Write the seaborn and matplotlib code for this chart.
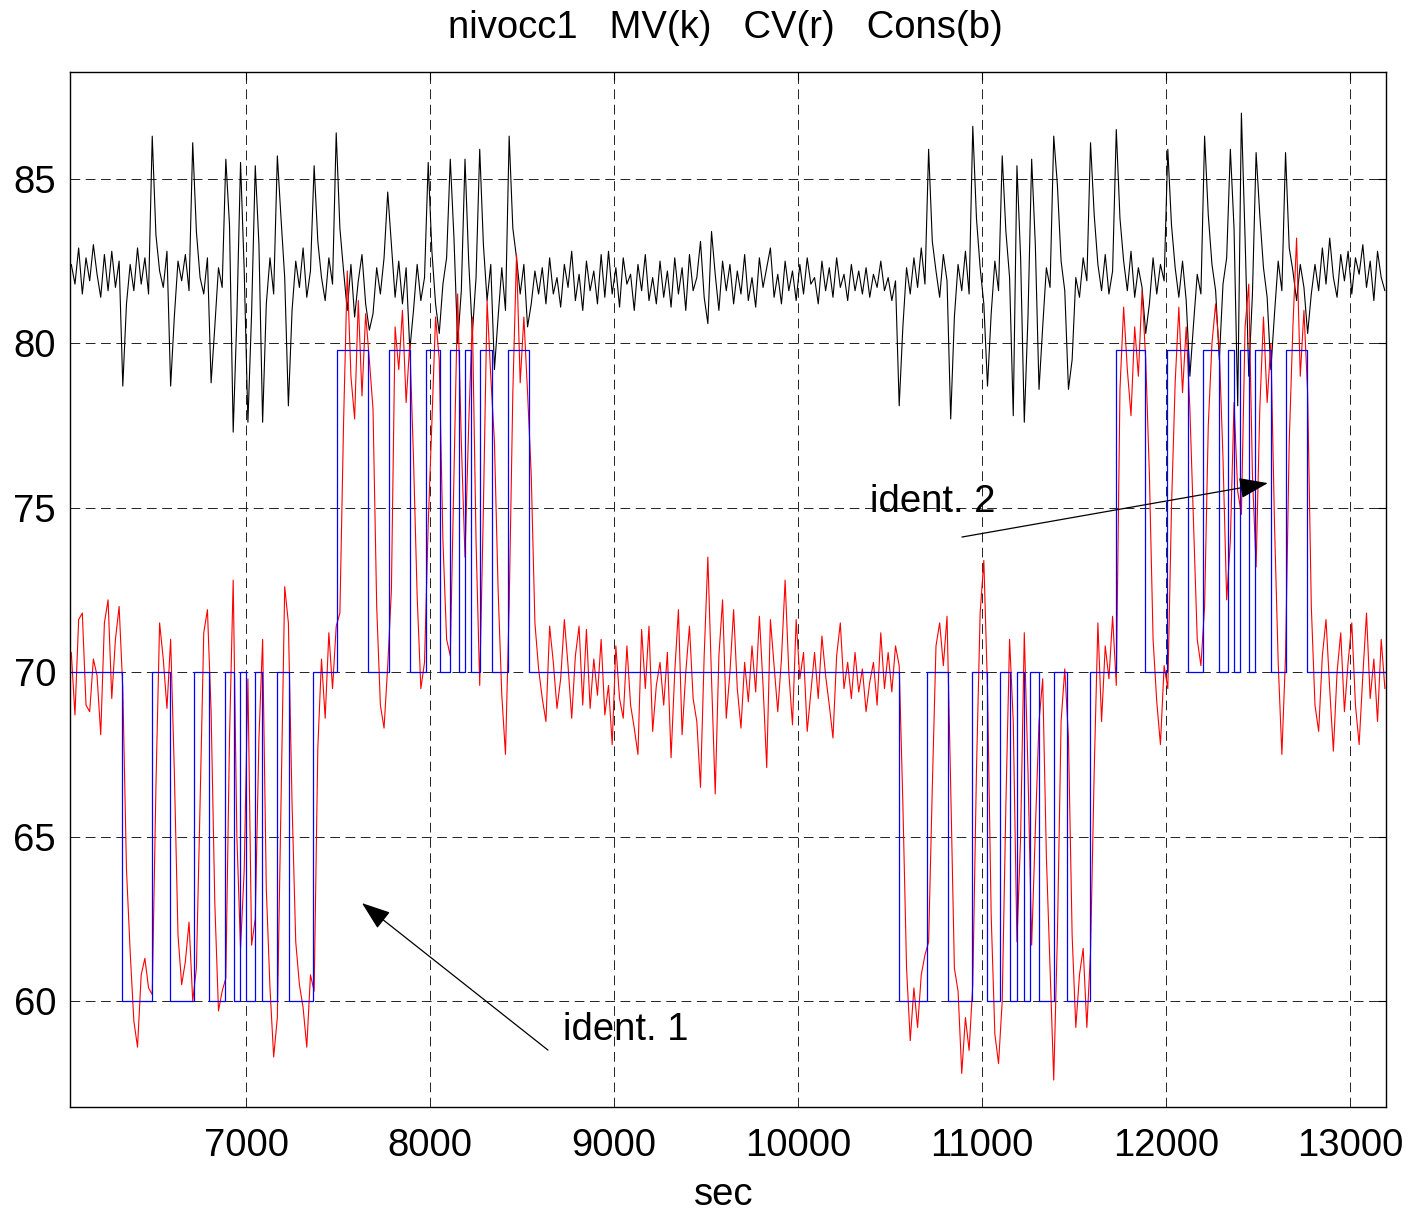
import numpy as np
import pandas as pd
import matplotlib
matplotlib.use("Agg")
import matplotlib.pyplot as plt
import seaborn as sns

# ---------------- data (sampled every 20 s, segments with their start time) ----------------
STEP = 20

# MV (black)
mv_seg1_start = 6050
mv_seg1 = [82.4, 81.8, 82.9, 81.5, 82.6, 81.9, 83.0, 82.1, 81.4, 82.7,
           81.6, 82.8, 81.7, 82.5, 78.7, 81.2, 82.4, 81.6, 82.9, 81.8,
           82.6, 81.5, 86.3, 83.3, 82.2, 81.7, 82.8, 78.7, 80.8, 82.5,
           81.9, 82.7, 81.6, 86.1, 83.4, 82.0, 81.5, 82.6, 78.8, 80.5,
           82.3, 81.7, 85.6, 83.6, 77.3, 80.8, 85.5, 82.2, 77.6, 80.9,
           85.4, 83.0, 77.6, 81.2, 82.6, 81.5, 85.7, 83.8, 82.0, 78.1,
           81.0, 82.5, 81.7, 82.9, 81.4, 82.2, 85.4, 83.1, 82.0, 81.3,
           82.6, 81.8, 86.4]
mv_seg2_start = 7510
mv_seg2 = [83.5, 82.2, 81.0, 82.4, 80.8, 81.9, 82.7, 81.2, 80.4, 80.9,
           82.3, 81.5, 82.6, 84.6, 83.0, 81.4, 82.5, 81.2, 82.3, 79.8,
           81.0, 82.4, 81.3, 82.0, 85.5, 82.8, 81.2, 80.3, 81.8, 82.6,
           85.6, 83.2, 80.0, 81.6, 85.6, 82.5, 80.3, 82.0, 85.9, 83.0,
           81.3, 82.4, 79.2, 80.8, 82.3, 81.0, 86.3, 83.5, 82.6, 81.5,
           82.4, 80.5, 81.2, 82.2, 81.5]
mv_seg3_start = 8610
mv_seg3 = [82.3, 81.2, 82.6, 81.5, 82.0, 81.1, 82.4, 81.7, 82.8, 81.3,
           82.1, 81.0, 82.5, 81.6, 82.2, 81.2, 82.7, 81.4, 82.8, 81.5,
           82.3, 81.1, 82.6, 81.8, 82.1, 81.0, 82.4, 81.6, 82.7, 81.3,
           82.0, 81.2, 82.5, 81.4, 82.2, 81.1, 82.6, 81.5, 82.3, 81.0,
           82.7, 81.6, 82.0, 83.1, 81.4, 80.6, 83.4, 82.1, 81.0, 82.5,
           81.6, 82.4, 81.2, 82.2, 81.5, 82.7, 81.3, 82.0, 81.1, 82.6,
           81.7, 82.3, 82.9, 81.4, 82.1, 81.2, 82.5, 81.6, 82.2, 81.3,
           82.4, 81.5, 82.6, 81.8, 82.0, 81.2, 82.5, 81.6, 82.3, 81.4,
           82.6, 81.7, 82.1, 81.3, 82.4, 81.6, 82.2, 81.5, 82.3, 81.4,
           82.1, 81.7, 82.5, 81.6, 82.0, 81.3, 81.9, 78.1]
mv_seg4_start = 10570
mv_seg4 = [80.5, 82.3, 81.5, 82.6, 81.7, 82.9, 81.8, 85.9, 83.1, 82.2,
           81.4, 82.7, 81.9, 77.7, 80.8, 82.4, 81.6, 82.8, 81.5, 86.6,
           83.8, 82.3, 81.2, 78.7, 80.9, 82.5, 81.6, 85.7, 83.4, 82.0,
           77.8, 85.4, 82.6, 77.6, 80.8, 85.6, 83.0, 78.6, 80.5, 82.3,
           81.7, 86.3, 84.8, 82.5, 81.6, 78.6, 79.5, 82.0, 81.4, 82.6,
           81.9, 86.1, 83.9, 82.4, 81.6, 82.7, 81.5, 82.2, 86.5]
mv_seg5_start = 11750
mv_seg5 = [83.8, 82.5, 81.6, 82.8, 81.4, 82.3, 81.7, 80.3, 81.2, 82.6,
           81.5, 82.4, 81.9, 85.9, 83.6, 82.3, 81.4, 82.5, 81.3, 79.0,
           80.6, 82.1, 81.5, 86.3, 83.9, 82.4, 81.6, 79.5, 81.8, 82.6,
           85.9, 83.5, 78.1, 87.0, 83.2, 79.0, 81.5, 85.8, 83.9, 82.3,
           81.4, 79.2, 80.9, 82.5, 81.6, 85.8, 82.9, 82.2, 81.3, 82.4,
           81.7, 80.3, 81.5]
mv_seg6_start = 12810
mv_seg6 = [82.4, 81.6, 82.9, 81.8, 83.2, 82.0, 81.4, 82.7, 81.9, 82.8,
           81.5, 82.6, 82.1, 83.0, 81.7, 82.5, 81.3, 82.8, 82.0, 81.6]

# CV (red)
cv_seg1_start = 6050
cv_seg1 = [70.6, 68.7, 71.6, 71.8, 69.0, 68.8, 70.4, 69.9, 68.1, 71.5,
           72.2, 69.2, 71.0, 72.0, 69.5, 64.0, 61.5, 59.4, 58.6, 60.8,
           61.3, 60.4, 60.2, 66.5, 71.5, 70.4, 68.9, 71.0, 67.0, 62.0,
           60.5, 61.2, 62.4, 60.0, 61.0, 66.0, 71.2, 71.9, 68.8, 63.0,
           59.7, 60.3, 60.7, 68.0, 72.8, 65.0, 61.6, 64.0, 69.8, 61.7,
           62.5, 68.0, 71.0, 63.4, 60.4, 58.3, 59.5, 66.0, 72.6, 71.5,
           66.0, 61.8, 60.5, 59.8, 58.6, 60.8, 60.3, 67.7, 70.4, 68.6,
           71.2, 69.5, 71.4]
cv_seg2_start = 7510
cv_seg2 = [71.8, 77.6, 82.2, 79.0, 77.7, 81.3, 78.4, 80.9, 79.5, 78.0,
           72.0, 69.0, 68.3, 70.2, 72.5, 80.5, 79.2, 81.0, 78.2, 80.0,
           76.5, 72.3, 69.5, 70.3, 74.5, 77.6, 80.8, 79.5, 74.0, 71.0,
           70.5, 76.0, 81.5, 77.0, 73.5, 77.5, 80.8, 74.0, 69.6, 75.0,
           81.3, 79.0, 77.0, 72.5, 69.3, 67.5, 72.0, 78.5, 82.7, 78.8,
           80.8, 78.5, 76.0, 71.5, 70.1]
cv_seg3_start = 8610
cv_seg3 = [69.2, 68.5, 71.4, 70.3, 68.9, 69.8, 71.6, 70.2, 68.6, 70.5,
           71.4, 69.0, 71.3, 68.9, 70.4, 69.3, 71.0, 68.7, 69.6, 67.8,
           70.8, 69.2, 68.6, 70.8, 69.0, 68.3, 67.5, 71.3, 69.5, 71.4,
           68.2, 69.6, 70.3, 69.0, 70.6, 67.4, 70.0, 71.9, 68.1, 70.0,
           71.4, 69.2, 68.5, 66.5, 70.5, 73.5, 69.8, 66.3, 70.5, 72.2,
           68.6, 70.0, 71.9, 69.5, 68.3, 70.3, 69.1, 70.8, 69.4, 71.7,
           69.6, 67.1, 71.6, 70.2, 68.8, 70.4, 72.8, 70.0, 68.4, 71.6,
           69.8, 70.6, 68.2, 69.4, 70.6, 69.2, 71.1, 69.9, 69.0, 68.0,
           70.5, 71.5, 69.5, 70.3, 69.2, 70.6, 69.4, 70.1, 68.8, 69.7,
           70.3, 69.0, 71.2, 69.5, 70.6, 69.4, 70.8, 70.2]
cv_seg4_start = 10570
cv_seg4 = [66.0, 61.0, 58.8, 60.4, 59.2, 60.8, 61.4, 61.8, 66.5, 70.8,
           71.5, 70.2, 71.7, 66.5, 61.0, 60.3, 57.8, 59.5, 58.5, 60.5,
           67.0, 71.8, 73.4, 69.5, 62.6, 59.0, 58.1, 60.0, 66.0, 71.0,
           68.5, 61.8, 65.0, 71.2, 67.0, 61.7, 65.2, 68.5, 69.8, 64.4,
           61.0, 57.6, 62.0, 68.5, 70.1, 68.0, 62.0, 59.2, 60.8, 61.6,
           59.2, 61.5, 67.0, 71.5, 68.5, 70.8, 69.8, 71.7, 69.6]
cv_seg5_start = 11750
cv_seg5 = [78.6, 81.1, 79.2, 77.8, 80.5, 79.0, 81.6, 79.5, 76.0, 71.0,
           69.1, 67.8, 70.2, 69.5, 75.0, 78.8, 81.1, 78.5, 80.5, 78.0,
           74.5, 71.0, 70.2, 72.0, 77.5, 80.0, 81.2, 79.8, 76.5, 72.2,
           74.0, 78.2, 75.5, 74.8, 80.5, 81.8, 76.0, 73.2, 78.0, 80.8,
           78.2, 80.0, 74.5, 70.3, 67.5, 70.5, 77.0, 80.5, 83.2, 79.0,
           81.0, 78.5, 72.0]
cv_seg6_start = 12810
cv_seg6 = [69.0, 68.2, 70.5, 71.6, 69.5, 67.6, 70.0, 71.2, 68.8, 70.3,
           71.5, 69.0, 67.8, 69.9, 71.8, 69.2, 70.4, 68.5, 71.0, 69.5]

# Cons (blue) : switching times and levels
cons_t = [6043, 6325, 6487, 6587, 6719, 6800, 6886, 6935, 6967, 7000, 7051, 7085,
          7167, 7234, 7366, 7493, 7665, 7779, 7891, 7977, 8054, 8109, 8158, 8190,
          8223, 8272, 8339, 8422, 8536, 10551, 10700, 10817, 10947, 11029, 11098,
          11152, 11189, 11228, 11261, 11312, 11393, 11460, 11587, 11728, 11888,
          12008, 12122, 12203, 12288, 12335, 12370, 12401, 12453, 12484, 12569,
          12651, 12765, 13196]
cons_v = [70, 60, 70, 60, 70, 60, 70, 60, 70, 60, 70, 60,
          70, 60, 70, 79.8, 70, 79.8, 70, 79.8, 70, 79.8, 70, 79.8,
          70, 79.8, 70, 79.8, 70, 60, 70, 60, 70, 60, 70,
          60, 70, 60, 70, 60, 70, 60, 70, 79.8, 70,
          79.8, 70, 79.8, 70, 79.8, 70, 79.8, 70, 79.8, 70,
          79.8, 70, 70]

title_text = "nivocc1   MV(k)   CV(r)   Cons(b)"
xlabel_text = "sec"
x_ticks = [7000, 8000, 9000, 10000, 11000, 12000, 13000]
y_ticks = [60, 65, 70, 75, 80, 85]


def build(segments):
    ts, vs = [], []
    for start, vals in segments:
        for k, v in enumerate(vals):
            ts.append(start + STEP * k)
            vs.append(v)
    return pd.DataFrame({"t": ts, "v": vs})


df_mv = build([(mv_seg1_start, mv_seg1), (mv_seg2_start, mv_seg2), (mv_seg3_start, mv_seg3),
               (mv_seg4_start, mv_seg4), (mv_seg5_start, mv_seg5), (mv_seg6_start, mv_seg6)])
df_cv = build([(cv_seg1_start, cv_seg1), (cv_seg2_start, cv_seg2), (cv_seg3_start, cv_seg3),
               (cv_seg4_start, cv_seg4), (cv_seg5_start, cv_seg5), (cv_seg6_start, cv_seg6)])
df_cons = pd.DataFrame({"t": cons_t, "v": cons_v})

# ---------------- style ----------------
sns.set_theme(style="white")
plt.rcParams["font.family"] = ["Liberation Sans", "DejaVu Sans"]
plt.rcParams["lines.scale_dashes"] = False
plt.rcParams["text.color"] = "black"

FS = 27.5

fig = plt.figure(figsize=(14.12, 12.14), dpi=100)
ax = fig.add_axes([70 / 1412, 1 - 1107 / 1214, (1386 - 70) / 1412, (1107 - 72) / 1214])

sns.lineplot(data=df_mv, x="t", y="v", ax=ax, color="black", linewidth=0.8,
             estimator=None, sort=False)
sns.lineplot(data=df_cv, x="t", y="v", ax=ax, color="#ff0000", linewidth=0.8,
             estimator=None, sort=False)
sns.lineplot(data=df_cons, x="t", y="v", ax=ax, color="#0000ff", linewidth=0.9,
             estimator=None, sort=False, drawstyle="steps-post")

ax.set_xlim(6043, 13196)
ax.set_ylim(56.78, 88.25)
ax.set_xticks(x_ticks)
ax.set_yticks(y_ticks)
ax.set_xticklabels([str(v) for v in x_ticks])
ax.set_yticklabels([str(v) for v in y_ticks])
ax.set_xlabel("")
ax.set_ylabel("")

ax.grid(True, color="#222222", linestyle=(0, (7, 4)), linewidth=0.7)
ax.set_axisbelow(True)
ax.tick_params(direction="in", length=6, width=0.8, top=True, right=True,
               labelsize=FS, colors="black")
ax.tick_params(axis="x", pad=15)
ax.tick_params(axis="y", pad=10)
for s in ax.spines.values():
    s.set_color("black")
    s.set_linewidth(1.0)
    s.set_visible(True)

# annotations
arrow_style = "-|>,head_length=0.5,head_width=0.18"
ax.annotate("", xy=(7630, 62.98), xytext=(8641, 58.51),
            arrowprops=dict(arrowstyle=arrow_style, mutation_scale=36, color="black",
                            lw=0.9, shrinkA=0, shrinkB=0))
ax.text(8723, 59.12, "ident. 1", fontsize=FS, ha="left", va="center", color="black")
ax.annotate("", xy=(12554, 75.75), xytext=(10891, 74.11),
            arrowprops=dict(arrowstyle=arrow_style, mutation_scale=36, color="black",
                            lw=0.9, shrinkA=0, shrinkB=0))
ax.text(10391, 75.18, "ident. 2", fontsize=FS, ha="left", va="center", color="black")

fig.text(725 / 1412, 1 - 28 / 1214, title_text, fontsize=FS, ha="center", va="center",
         color="black")
fig.text(724 / 1412, 1 - 1195 / 1214, xlabel_text, fontsize=FS, ha="center", va="center",
         color="black")

fig.savefig("out.png", dpi=100, facecolor="white")
